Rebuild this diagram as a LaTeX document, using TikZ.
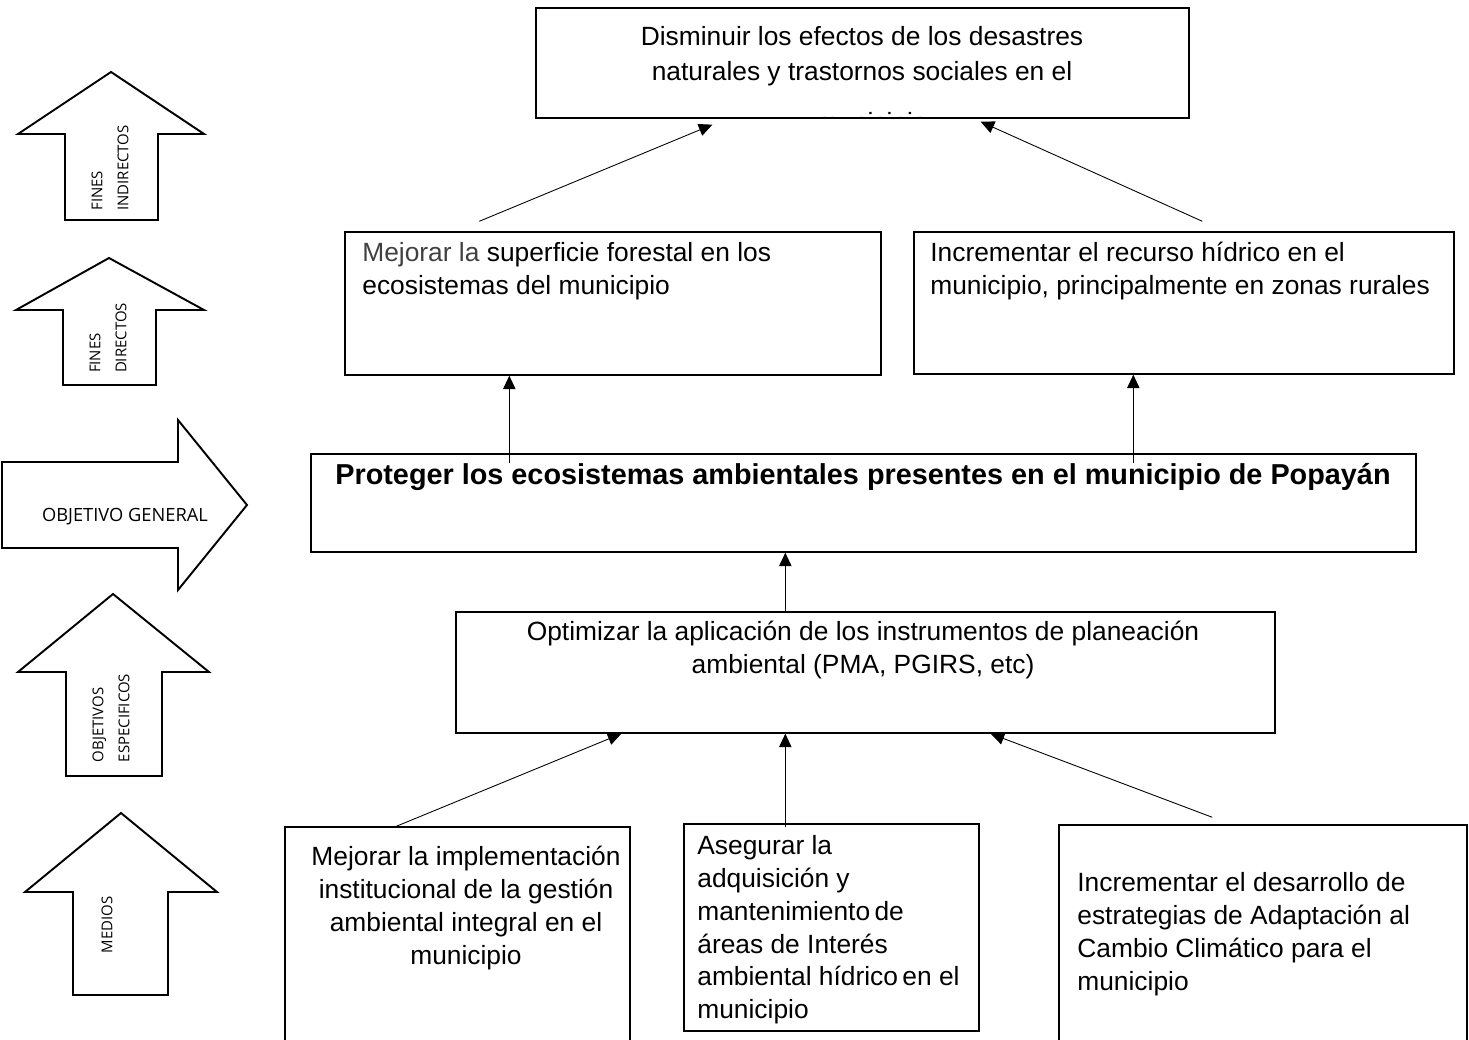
\documentclass[tikz,border=0pt]{standalone}
\usepackage{fontspec}
\setmainfont{Liberation Sans}
\newfontfamily\etiqfont{Open Sans}
\usetikzlibrary{arrows.meta, fit}

\begin{document}
\begin{tikzpicture}[
        x=0.02cm, y=-0.02cm,
        caja/.style={rectangle, draw, line width=0.8pt, inner sep=0pt},
        texto/.style={inner sep=0pt, font=\fontsize{15}{18.7}\selectfont},
        flecha/.style={-{Triangle[length=0.27cm, width=0.25cm]}, line width=0.5pt},
        bloque/.style={draw, line width=1.1pt, line join=miter},
        etiqueta/.style={inner sep=0pt, rotate=90, align=left, font=\etiqfont\fontsize{8.5}{14.7}\selectfont}
        ]

        \useasboundingbox (0,0) rectangle (1469,1040);
        \clip (0,0) rectangle (1469,1040);

        % Left arrows
        \draw[bloque] (111,72) -- (204,134) -- (158,134) -- (158,220) -- (65,220) -- (65,134) -- (18,134) -- cycle;
        \draw[bloque] (109,258) -- (204,310) -- (156,310) -- (156,385) -- (63,385) -- (63,310) -- (16,310) -- cycle;
        \draw[bloque] (2,462) -- (178,462) -- (178,420) -- (247,505) -- (178,590) -- (178,548) -- (2,548) -- cycle;
        \draw[bloque] (113,594) -- (209,672) -- (162,672) -- (162,776) -- (66,776) -- (66,672) -- (18,672) -- cycle;
        \draw[bloque] (121,813) -- (217,892) -- (168,892) -- (168,995) -- (73,995) -- (73,892) -- (25,892) -- cycle;

        \node[etiqueta] (lfi) at (110,168) {FINES\\INDIRECTOS};
        \node[etiqueta] (lfd) at (108,338) {FINES\\DIRECTOS};
        \node[inner sep=0pt, font=\etiqfont\fontsize{10.4}{12}\selectfont] (log) at (125,517) {OBJETIVO GENERAL};
        \node[etiqueta] (loe) at (111,718) {OBJETIVOS\\ESPECIFICOS};
        \node[etiqueta] (lme) at (107,925) {MEDIOS};

        % Boxes
        \node[caja, fit={(536,8) (1189,118)}] (fin) {};
        \node[caja, fit={(345,232) (881,375)}] (sup) {};
        \node[caja, fit={(914,232) (1454,374)}] (hid) {};
        \node[caja, fit={(311,454) (1416,552)}] (gral) {};
        \node[caja, fit={(456,612) (1275,733)}] (opt) {};
        \node[caja, fit={(285,827) (630,1060)}] (med1) {};
        \node[caja, fit={(684,824) (979,1031)}] (med2) {};
        \node[caja, fit={(1059,825) (1467,1060)}] (med3) {};

        % Texts
        \node[texto, align=center, anchor=north, font=\fontsize{15}{19.8}\selectfont] (tfin) at (862,26) {Disminuir los efectos de los desastres\\naturales y trastornos sociales en el};
        \begin{scope}
            \clip (536,8) rectangle (1189,117);
            \node[texto, anchor=base] (tfin2) at (872,132) {municipio};
        \end{scope}
        \node[texto, align=left, anchor=north west] (tsup) at (362,242) {\textcolor{black!75}{Mejorar la} superficie forestal en los\\ecosistemas del municipio};
        \node[texto, align=left, anchor=north west] (thid) at (930,242) {Incrementar el recurso hídrico en el\\municipio, principalmente en zonas rurales};
        \node[texto, anchor=north, font=\bfseries\fontsize{16.4}{19}\selectfont] (tgral) at (863,463) {Proteger los ecosistemas ambientales presentes en el municipio de Popayán};
        \node[texto, align=center, anchor=north] (topt) at (863,621) {Optimizar la aplicación de los instrumentos de planeación\\ambiental (PMA, PGIRS, etc)};
        \node[texto, align=center, anchor=north] (tmed1) at (466,846) {Mejorar la implementación\\institucional de la gestión\\ambiental integral en el\\municipio};
        \node[texto, align=left, anchor=north west] (tmed2) at (697,835) {Asegurar la\\adquisición y\\mantenimiento\,de\\áreas de Interés\\ambiental hídrico\,en el\\municipio};
        \node[texto, align=left, anchor=north west] (tmed3) at (1077,872) {Incrementar el desarrollo de\\estrategias de Adaptación al\\Cambio Climático para el\\municipio};

        % Arrows
        \draw[flecha] ([shift={(135,-10)}]sup.north west) -- ([shift={(177,6)}]fin.south west);
        \draw[flecha] ([shift={(289,-10)}]hid.north west) -- ([shift={(-209,3)}]fin.south east);
        \draw[flecha] ([shift={(199,10)}]gral.north west) -- ([shift={(165,0)}]sup.south west);
        \draw[flecha] ([shift={(823,10)}]gral.north west) -- ([shift={(220,0)}]hid.south west);
        \draw[flecha] ([shift={(330,0)}]opt.north west) -- ([shift={(475,0)}]gral.south west);
        \draw[flecha] ([shift={(112,0)}]med1.north west) -- ([shift={(166,0)}]opt.south west);
        \draw[flecha] ([shift={(102,4)}]med2.north west) -- ([shift={(330,0)}]opt.south west);
        \draw[flecha] ([shift={(154,-7)}]med3.north west) -- ([shift={(-285,0)}]opt.south east);

\end{tikzpicture}
\end{document}
